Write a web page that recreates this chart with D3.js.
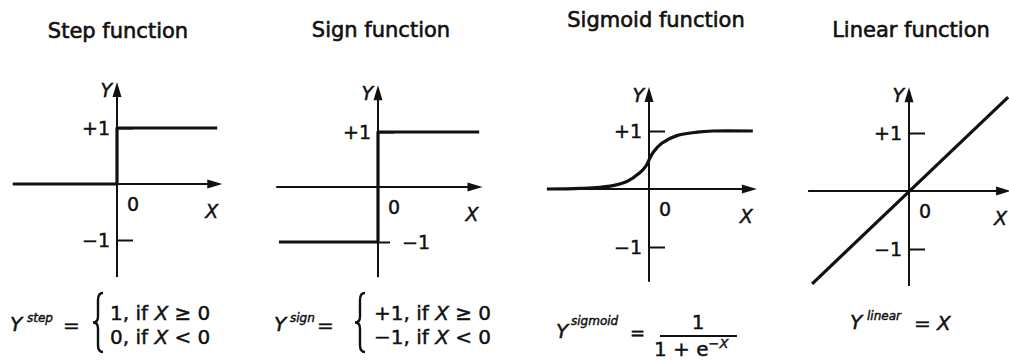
<!DOCTYPE html>
<html>
<head>
<meta charset="utf-8">
<script src="https://cdn.jsdelivr.net/npm/d3@7"></script>
<style>
  body { margin: 0; background: #fff; }
  svg { display: block; font-family: "DejaVu Sans", sans-serif; fill: #111; }
  text { stroke: #111; stroke-width: 0.45px; }
</style>
</head>
<body>
<svg id="chart" width="1009" height="362"></svg>
<script>
const titles = ["Step function", "Sign function", "Sigmoid function", "Linear function"];
const xExtents = [[-1.86, 1.88], [-1.85, 1.9], [-1.76, 1.86], [-1.74, 1.76]];
const yExtents = [[-1.66, 1.82], [-1.64, 1.85], [-1.6, 1.76], [-1.64, 1.79]];
const tickValues = [1, -1];
const tickLabels = ["+1", "\u22121"];

const stepPoints = [[-1.86, 0], [0, 0], [0, 1], [1.79, 1]];
const signPoints = [[-1.8, -1], [0, -1], [0, 1], [1.84, 1]];
const sigmoidPoints = [
  [-1.76, 0], [-1.19, 0.01], [-0.67, 0.05], [-0.38, 0.13], [-0.17, 0.27], [-0.05, 0.4],
  [0, 0.5], [0.07, 0.63], [0.22, 0.79], [0.48, 0.92], [0.83, 0.98], [1.1, 1], [1.79, 1]
];
const linearPoints = [[-1.67, -1.6], [1.71, 1.62]];
const functionPoints = [stepPoints, signPoints, sigmoidPoints, linearPoints];

const superscripts = ["step", "sign", "sigmoid", "linear"];
const stepCases = [["1, if ", "X", " \u2265 0"], ["0, if ", "X", " < 0"]];
const signCases = [["+1, if ", "X", " \u2265 0"], ["\u22121, if ", "X", " < 0"]];

// layout of each panel: origin in px, size of one unit, title position
const panels = [
  { cx: 117, cy: 184, unit: 56, titleX: 118, titleY: 38, curve: d3.curveLinear },
  { cx: 378, cy: 187, unit: 55, titleX: 381, titleY: 37, curve: d3.curveLinear, minusRight: true },
  { cx: 649, cy: 189, unit: 58, titleX: 656, titleY: 27, curve: d3.curveCatmullRom.alpha(0.5) },
  { cx: 909, cy: 191, unit: 58, titleX: 911, titleY: 37, curve: d3.curveLinear }
];

const svg = d3.select("#chart");
svg.append("rect").attr("width", 1009).attr("height", 362).attr("fill", "#fff");

function drawPanel(p, i) {
  var xScale = d3.scaleLinear()
    .domain([0, 1])
    .range([p.cx, p.cx + p.unit]);
  var yScale = d3.scaleLinear()
    .domain([0, 1])
    .range([p.cy, p.cy - p.unit]);

  var g = svg.append("g").attr("class", "panel" + i);

  g.append("text")
    .attr("x", p.titleX)
    .attr("y", p.titleY)
    .attr("text-anchor", "middle")
    .style("font-size", "21px")
    .style("stroke-width", "0.6px")
    .text(titles[i]);

  var x0 = xScale(xExtents[i][0]), x1 = xScale(xExtents[i][1]);
  var y0 = yScale(yExtents[i][0]), y1 = yScale(yExtents[i][1]);

  // x axis with arrow
  g.append("line")
    .attr("x1", x0).attr("x2", x1 - 8)
    .attr("y1", p.cy).attr("y2", p.cy)
    .attr("stroke", "#111").attr("stroke-width", 2);
  g.append("path")
    .attr("d", `M${x1},${p.cy}L${x1 - 15},${p.cy - 4.5}L${x1 - 15},${p.cy + 4.5}Z`)
    .attr("fill", "#111");

  // y axis with arrow
  g.append("line")
    .attr("x1", p.cx).attr("x2", p.cx)
    .attr("y1", y0).attr("y2", y1 + 8)
    .attr("stroke", "#111").attr("stroke-width", 2);
  g.append("path")
    .attr("d", `M${p.cx},${y1}L${p.cx - 4.5},${y1 + 15}L${p.cx + 4.5},${y1 + 15}Z`)
    .attr("fill", "#111");

  // ticks on the right of the axis, labels on the left
  var yAxis = d3.axisLeft(yScale)
    .tickValues(tickValues)
    .tickSizeInner(-16)
    .tickSizeOuter(0)
    .tickPadding(7)
    .tickFormat(function (d, k) { return tickLabels[k]; });

  var ax = g.append("g")
    .attr("transform", `translate(${p.cx},0)`)
    .call(yAxis);
  ax.select(".domain").remove();
  ax.selectAll("line").attr("stroke", "#111").attr("stroke-width", 2);
  ax.selectAll("text")
    .attr("fill", "#111")
    .style("font-family", "DejaVu Sans, sans-serif")
    .style("font-size", "19px");
  if (p.minusRight) {
    ax.selectAll(".tick").filter(function (d) { return d < 0; })
      .select("text")
      .attr("x", 24)
      .attr("text-anchor", "start");
    ax.selectAll(".tick").filter(function (d) { return d < 0; })
      .select("line").attr("x2", 12);
  }

  // axis names and origin
  g.append("text")
    .attr("x", p.cx - 5).attr("y", y1 + 15)
    .attr("text-anchor", "end")
    .style("font-size", "19px").style("font-style", "italic")
    .text("Y");
  g.append("text")
    .attr("x", x1 - 4).attr("y", p.cy + 34)
    .attr("text-anchor", "end")
    .style("font-size", "19px").style("font-style", "italic")
    .text("X");
  g.append("text")
    .attr("x", p.cx + 10).attr("y", p.cy + 27)
    .style("font-size", "19px")
    .text("0");

  // the function
  var line = d3.line()
    .x(function (d) { return xScale(d[0]); })
    .y(function (d) { return yScale(d[1]); })
    .curve(p.curve);

  g.append("path")
    .datum(functionPoints[i])
    .attr("d", line)
    .attr("fill", "none")
    .attr("stroke", "#111")
    .attr("stroke-width", 3.2)
    .attr("stroke-linejoin", "round");
}

panels.forEach(drawPanel);

// formulas
function addText(x, y, size, italic, str, anchor) {
  return svg.append("text")
    .attr("x", x).attr("y", y)
    .attr("text-anchor", anchor || "start")
    .style("font-size", size + "px")
    .style("font-style", italic ? "italic" : "normal")
    .text(str);
}

function brace(x, top, bottom) {
  var mid = (top + bottom) / 2;
  var d = `M${x + 8},${top} Q${x + 3},${top} ${x + 3},${top + 7} L${x + 3},${mid - 6}` +
    ` Q${x + 3},${mid} ${x - 2},${mid} Q${x + 3},${mid} ${x + 3},${mid + 6}` +
    ` L${x + 3},${bottom - 7} Q${x + 3},${bottom} ${x + 8},${bottom}`;
  svg.append("path").attr("d", d).attr("fill", "none")
    .attr("stroke", "#111").attr("stroke-width", 2.4);
}

function caseLine(x, y, parts) {
  var t = svg.append("text").attr("x", x).attr("y", y).style("font-size", "20px");
  t.append("tspan").text(parts[0]);
  t.append("tspan").style("font-style", "italic").text(parts[1]);
  t.append("tspan").text(parts[2]);
}

// step
addText(10, 331, 20, true, "Y");
addText(27, 322, 12, true, superscripts[0]);
addText(63, 332, 20, false, "=");
brace(95, 293, 352);
caseLine(110, 320, stepCases[0]);
caseLine(110, 344, stepCases[1]);

// sign
addText(274, 331, 20, true, "Y");
addText(290, 322, 12, true, superscripts[1]);
addText(317, 332, 20, false, "=");
brace(357, 293, 352);
caseLine(374, 320, signCases[0]);
caseLine(374, 344, signCases[1]);

// sigmoid
addText(556, 338, 20, true, "Y");
addText(571, 325, 12, true, superscripts[2]);
addText(630, 339, 18, false, "=");
addText(698, 329, 20, false, "1", "middle");
svg.append("line")
  .attr("x1", 660).attr("x2", 737)
  .attr("y1", 336).attr("y2", 336)
  .attr("stroke", "#111").attr("stroke-width", 2);
var den = svg.append("text").attr("x", 654).attr("y", 356).style("font-size", "20px");
den.append("tspan").text("1 + e");
den.append("tspan").attr("dy", -8).style("font-size", "13px").style("font-style", "italic").text("\u2212X");

// linear
addText(850, 329, 20, true, "Y");
addText(867, 320, 12, true, superscripts[3]);
addText(914, 330, 20, false, "=");
addText(937, 330, 20, true, "X");
</script>
</body>
</html>
